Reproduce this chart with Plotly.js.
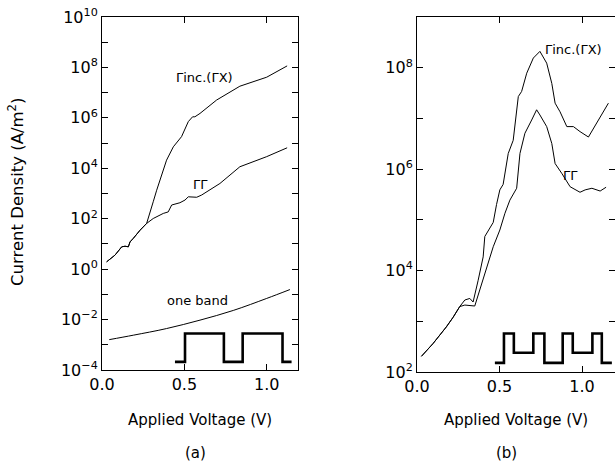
<!DOCTYPE html>
<html>
<head>
<meta charset="utf-8">
<script src="https://cdn.plot.ly/plotly-3.0.1.min.js"></script>
<style>
html,body{margin:0;padding:0;background:#fff;}
#wrap{position:relative;width:615px;height:476px;overflow:hidden;}
#chartA{position:absolute;left:0;top:0;width:310px;height:476px;}
#chartB{position:absolute;left:310px;top:0;width:305px;height:476px;}
</style>
</head>
<body>
<div id="wrap"><div id="chartA"></div><div id="chartB"></div></div>
<script>
// ---- Panel (a) data ----
const aIncX = [0.028,0.079,0.12,0.14,0.16,0.17,0.19,0.231,0.271,0.291,0.311,0.332,0.352,0.372,0.392,0.433,0.483,0.524,0.55,0.564,0.595,0.696,0.837,1.0,1.124];
const aIncY = [1.95,3.6,7.7,8.1,7.7,12,16.6,35,65,162,470,1350,3400,8500,2.1e4,7.1e4,1.8e5,7.1e5,1.1e6,1.1e6,1.5e6,5.1e6,1.8e7,4.1e7,1.15e8];
const aGGX = [0.028,0.079,0.12,0.14,0.16,0.17,0.19,0.231,0.271,0.311,0.372,0.402,0.423,0.473,0.504,0.524,0.575,0.605,0.716,0.837,1.0,1.124];
const aGGY = [1.95,3.6,7.7,8.1,7.7,12,16.6,35,65,102,162,186,350,430,550,740,710,870,2500,1.15e4,2.9e4,6.5e4];
const aOneX = [0.044,0.19,0.392,0.595,0.797,1.0,1.141];
const aOneY = [1.6e-3,2.4e-3,4.4e-3,9.5e-3,2.3e-2,6.9e-2,0.155];
const aBandX = [0.443,0.504,0.504,0.74,0.74,0.854,0.854,1.096,1.096,1.151];
const aBandY = [2.1e-4,2.1e-4,2.8e-3,2.8e-3,2.1e-4,2.1e-4,2.8e-3,2.8e-3,2.1e-4,2.1e-4];

// ---- Panel (b) data ----
const bIncX = [0.027,0.097,0.178,0.219,0.259,0.29,0.32,0.34,0.37,0.401,0.411,0.431,0.462,0.482,0.502,0.522,0.553,0.583,0.614,0.634,0.665,0.705,0.745,0.786,0.817,0.837,0.867,0.908,0.948,0.988,1.039,1.16];
const bIncY = [204,363,776,1200,1950,2630,2820,2400,6300,1.86e4,4.7e4,6.0e4,8.9e4,2.0e5,3.9e5,5.0e5,2.04e6,3.7e6,2.7e7,3.4e7,7.8e7,1.55e8,2.1e8,1.23e8,4.9e7,2.0e7,1.35e7,6.9e6,6.9e6,5.5e6,4.3e6,2.0e7];
const bGGX = [0.027,0.097,0.178,0.219,0.259,0.29,0.35,0.381,0.431,0.462,0.502,0.533,0.563,0.583,0.604,0.624,0.654,0.695,0.725,0.745,0.786,0.817,0.837,0.877,0.928,0.988,1.019,1.06,1.11,1.146];
const bGGY = [204,363,776,1200,1950,2090,2000,4170,1.38e4,2.95e4,6.3e4,1.35e5,2.45e5,3.3e5,4.2e5,2.04e6,5.1e6,9.3e6,1.48e7,1.17e7,6.9e6,3.2e6,1.29e6,8.3e5,4.5e5,3.5e5,3.9e5,4.2e5,3.7e5,4.4e5];
const bBandX = [0.472,0.527,0.527,0.587,0.587,0.705,0.705,0.772,0.772,0.883,0.883,0.944,0.944,1.063,1.063,1.12,1.12,1.181];
const bBandY = [151,151,575,575,240,240,575,575,151,151,575,575,240,240,575,575,151,151];

// ---- tick labels ----
const aTickVals = [1e-4,1e-3,1e-2,1e-1,1,10,1e2,1e3,1e4,1e5,1e6,1e7,1e8,1e9,1e10];
const aTickText = ['10<sup>−4</sup>',' ','10<sup>−2</sup>',' ','10<sup>0</sup>',' ','10<sup>2</sup>',' ','10<sup>4</sup>',' ','10<sup>6</sup>',' ','10<sup>8</sup>',' ','10<sup>10</sup>'];
const bTickVals = [1e2,1e3,1e4,1e5,1e6,1e7,1e8,1e9];
const bTickText = ['10<sup>2</sup>',' ','10<sup>4</sup>',' ','10<sup>6</sup>',' ','10<sup>8</sup>',' '];
const curveLabel = 'Γinc.(ΓX)';
const ggLabel = 'ΓΓ';
const oneBandLabel = 'one band';
const xTitle = 'Applied Voltage (V)';
const yTitle = 'Current Density (A/m<sup>2</sup>)';

const FONT = 'DejaVu Sans';
const line = {color:'black', width:1};
const band = {color:'black', width:2.6};

function xax(domain, range){
  return {
    domain:domain, range:range,
    showgrid:false, zeroline:false,
    showline:true, linecolor:'black', linewidth:1, mirror:'ticks',
    ticks:'inside', ticklen:6, tickwidth:1, tickcolor:'black',
    tick0:0, dtick:0.5, tickformat:'.1f',
    tickfont:{family:FONT, size:16, color:'black'}
  };
}
function yax(domain, range, tv, tt){
  return {
    type:'log', domain:domain, range:range,
    showgrid:false, zeroline:false,
    showline:true, linecolor:'black', linewidth:1, mirror:'ticks',
    ticks:'inside', ticklen:6, tickwidth:1, tickcolor:'black',
    tickmode:'array', tickvals:tv, ticktext:tt,
    tickfont:{family:FONT, size:16, color:'black'}
  };
}

// ---- Panel (a) ----
const tracesA = [
  {x:aIncX, y:aIncY, mode:'lines', line:line},
  {x:aGGX, y:aGGY, mode:'lines', line:line},
  {x:aOneX, y:aOneY, mode:'lines', line:{color:'black',width:1,shape:'spline'}},
  {x:aBandX, y:aBandY, mode:'lines', line:band}
];
const WA = 310, WB = 305, H = 476;
const layoutA = {
  width:WA, height:H, showlegend:false,
  margin:{l:0, r:0, t:0, b:0},
  xaxis: xax([102/WA, 298/WA],[0,1.19]),
  yaxis: yax([1-370/H, 1-17/H],[-4,10],aTickVals,aTickText),
  annotations:[
    {xref:'x', yref:'y', x:0.625, y:7.62, text:curveLabel, showarrow:false, font:{family:FONT,size:13,color:'black'}},
    {xref:'x', yref:'y', x:0.60, y:3.35, text:ggLabel, showarrow:false, font:{family:FONT,size:13,color:'black'}},
    {xref:'x', yref:'y', x:0.58, y:-1.23, text:oneBandLabel, showarrow:false, font:{family:FONT,size:13,color:'black'}},
    {xref:'paper', yref:'paper', x:200/WA, y:1-420/H, xanchor:'center', yanchor:'middle', text:xTitle, showarrow:false, font:{family:FONT,size:15,color:'black'}},
    {xref:'paper', yref:'paper', x:16/WA, y:1-192/H, xanchor:'center', yanchor:'middle', textangle:-90, text:yTitle, showarrow:false, font:{family:FONT,size:16.5,color:'black'}},
    {xref:'paper', yref:'paper', x:195/WA, y:1-453/H, xanchor:'center', yanchor:'middle', text:'(a)', showarrow:false, font:{family:FONT,size:15,color:'black'}}
  ]
};

// ---- Panel (b) ----
const tracesB = [
  {x:bIncX, y:bIncY, mode:'lines', line:line},
  {x:bGGX, y:bGGY, mode:'lines', line:line},
  {x:bBandX, y:bBandY, mode:'lines', line:band}
];
const layoutB = {
  width:WB, height:H, showlegend:false,
  margin:{l:0, r:0, t:0, b:0},
  xaxis: xax([107/WB, 1],[0,1.2]),
  yaxis: yax([1-372/H, 1-17/H],[2,9],bTickVals,bTickText),
  annotations:[
    {xref:'x', yref:'y', x:0.765, y:8.35, xanchor:'left', text:curveLabel, showarrow:false, font:{family:FONT,size:13,color:'black'}},
    {xref:'x', yref:'y', x:0.928, y:5.88, text:ggLabel, showarrow:false, font:{family:FONT,size:13,color:'black'}},
    {xref:'paper', yref:'paper', x:206/WB, y:1-420/H, xanchor:'center', yanchor:'middle', text:xTitle, showarrow:false, font:{family:FONT,size:15,color:'black'}},
    {xref:'paper', yref:'paper', x:196/WB, y:1-453/H, xanchor:'center', yanchor:'middle', text:'(b)', showarrow:false, font:{family:FONT,size:15,color:'black'}}
  ]
};

Plotly.newPlot('chartA', tracesA, layoutA, {displayModeBar:false});
Plotly.newPlot('chartB', tracesB, layoutB, {displayModeBar:false});
</script>
</body>
</html>
